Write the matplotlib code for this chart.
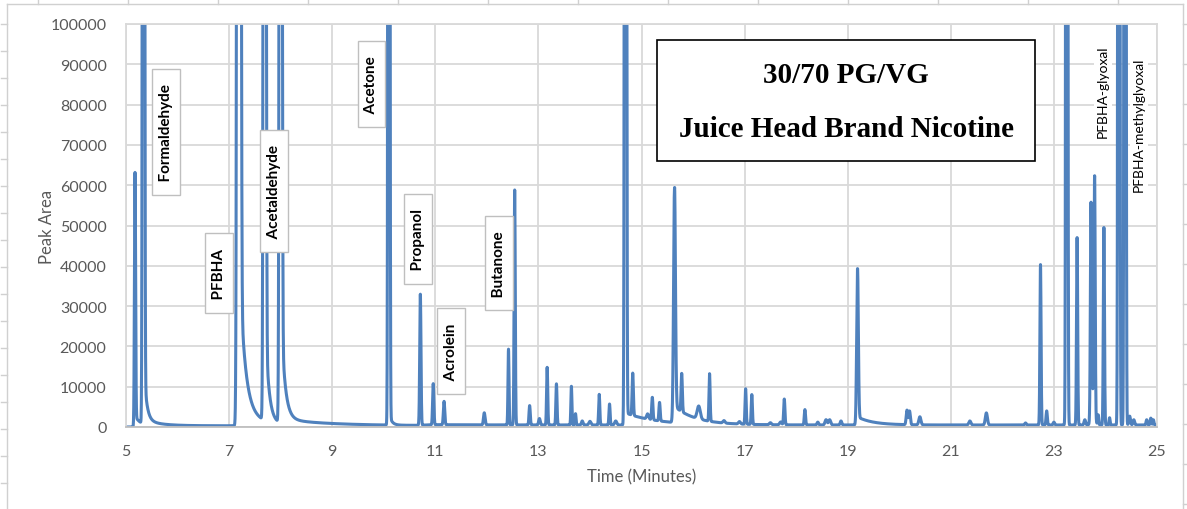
import matplotlib
matplotlib.use("Agg")
import matplotlib.pyplot as plt
import numpy as np
from matplotlib.lines import Line2D
from matplotlib.patches import Rectangle

# peak table (minutes, peak area units, width in minutes)
peak_time = [5.175, 5.34, 7.19, 7.69, 8.00, 10.10, 10.71, 10.96, 11.17, 11.95,
             12.42, 12.54, 12.83, 13.02, 13.17, 13.35, 13.64, 13.72, 13.85, 14.00,
             14.18, 14.38, 14.50, 14.69, 14.83, 15.12, 15.21, 15.35, 15.64, 15.78,
             16.11, 16.32, 16.60, 16.90, 17.02, 17.14, 17.50, 17.70, 17.77, 18.17,
             18.42, 18.58, 18.65, 18.87, 19.19, 20.15, 20.20, 20.40, 21.37, 21.69,
             22.45, 22.74, 22.86, 23.00, 23.25, 23.45, 23.60, 23.72, 23.76, 23.79,
             23.86, 23.97, 24.08, 24.26, 24.38, 24.47, 24.55, 24.80, 24.88, 24.93]
peak_height = [63000, 1000000, 2000000, 1000000, 1000000, 1000000, 32500, 10200, 5800, 3000,
               18800, 58300, 4800, 1600, 14300, 10200, 9600, 2800, 1000, 900,
               7600, 5200, 1000, 1000000, 10500, 1300, 5600, 4600, 58000, 9500,
               3200, 11800, 600, 600, 8800, 7400, 500, 700, 6400, 3800,
               700, 1300, 1300, 1000, 38800, 3600, 3400, 2000, 1000, 3000,
               500, 39800, 3500, 700, 1000000, 46500, 1300, 52000, 8000, 57000,
               2500, 49000, 1800, 1000000, 1000000, 2200, 1300, 1300, 1700, 1300]
peak_sigma = [0.011, 0.013, 0.020, 0.016, 0.016, 0.012, 0.012, 0.012, 0.013, 0.015,
              0.010, 0.011, 0.012, 0.015, 0.011, 0.011, 0.010, 0.010, 0.015, 0.020,
              0.011, 0.011, 0.020, 0.013, 0.012, 0.020, 0.012, 0.012, 0.018, 0.012,
              0.030, 0.011, 0.020, 0.020, 0.011, 0.011, 0.020, 0.020, 0.012, 0.012,
              0.015, 0.020, 0.020, 0.015, 0.016, 0.015, 0.015, 0.020, 0.020, 0.020,
              0.015, 0.011, 0.012, 0.015, 0.012, 0.011, 0.015, 0.012, 0.030, 0.011,
              0.010, 0.011, 0.010, 0.012, 0.012, 0.015, 0.015, 0.012, 0.012, 0.010]

# exponential tailing after the large peaks
tail_time = [5.175, 5.34, 5.34, 7.19, 7.19, 7.69, 8.00, 8.00, 10.10, 14.69, 15.64, 19.19]
tail_amp = [2500, 15000, 1500, 40500, 5000, 30000, 30000, 1500, 3000, 3000, 4000, 2000]
tail_tau = [0.10, 0.05, 0.30, 0.10, 0.33, 0.065, 0.07, 1.0, 0.05, 0.6, 0.4, 0.3]

# detector baseline
base_time = [5.0, 5.14, 5.20, 10.6, 11.0, 25.0]
base_level = [0, 0, 300, 300, 500, 500]

labels = ["Formaldehyde", "PFBHA", "Acetaldehyde", "Acetone", "Propanol", "Acrolein", "Butanone"]
label_x = [5.78, 6.81, 7.87, 9.76, 10.67, 11.31, 12.24]
label_y = [73200, 38200, 58600, 85100, 46700, 18900, 40700]
side_labels = ["PFBHA-glyoxal", "PFBHA-methylglyoxal"]
side_x = [23.95, 24.65]
side_y = [83400, 75200]

LINE = "#4F81BD"
GRID = "#d9d9d9"
TXT = "#595959"

plt.rcParams["font.family"] = ["Lato", "DejaVu Sans"]

t = np.linspace(5, 25, 8001)
signal = np.interp(t, base_time, base_level)
for t0, h, s in zip(peak_time, peak_height, peak_sigma):
    signal += h * np.exp(-0.5 * ((t - t0) / s) ** 2)
for t0, a, tau in zip(tail_time, tail_amp, tail_tau):
    dt = np.clip(t - t0, 0, None)
    signal += a * np.exp(-dt / tau) * (1 - np.exp(-dt / 0.01))

fig = plt.figure(figsize=(11.87, 5.10), dpi=100)
ax = fig.add_axes([126 / 1187, 1 - 428 / 510, 1031 / 1187, 403 / 510])
ax.plot(t, signal, color=LINE, lw=2.2, solid_joinstyle="round")
ax.set_xlim(5, 25)
ax.set_ylim(0, 100000)
ax.set_xticks(np.arange(5, 26, 2))
ax.set_yticks(np.arange(0, 100001, 10000))
ax.grid(True, color=GRID, lw=1.3)
ax.set_axisbelow(True)
for sp in ax.spines.values():
    sp.set_color(GRID)
    sp.set_linewidth(1.3)
ax.spines["bottom"].set_color("#bfbfbf")
ax.tick_params(length=0, colors=TXT, labelsize=11.5)
ax.tick_params(axis="y", pad=14)
ax.tick_params(axis="x", pad=12)
ax.set_xlabel("Time (Minutes)", color=TXT, fontsize=12, labelpad=8)
ax.set_ylabel("Peak Area", color=TXT, fontsize=12, labelpad=-3)

for name, x, y in zip(labels, label_x, label_y):
    ax.text(x, y, f"  {name}  ", rotation=90, ha="center", va="center", fontsize=11,
            fontweight="bold", color="black",
            bbox=dict(boxstyle="square,pad=0.45", fc="white", ec="#bfbfbf", lw=1))
for name, x, y in zip(side_labels, side_x, side_y):
    ax.text(x, y, name, rotation=90, ha="center", va="center", fontsize=10,
            color="black", bbox=dict(boxstyle="square,pad=0.2", fc="white", ec="none"))

ax.add_patch(Rectangle((0.515, 0.660), 0.367, 0.300, transform=ax.transAxes,
                       fc="white", ec="black", lw=1.2, zorder=5))
ax.text(0.6985, 0.875, "30/70 PG/VG", transform=ax.transAxes, ha="center", va="center",
        fontsize=21, fontweight="bold", family="Liberation Serif", zorder=6)
ax.text(0.6985, 0.740, "Juice Head Brand Nicotine", transform=ax.transAxes, ha="center",
        va="center", fontsize=21, fontweight="bold", family="Liberation Serif", zorder=6)

# page frame around the chart
W, H = 1187, 510
frame = "#d0d0d0"
fig.add_artist(Line2D([7 / W, 7 / W], [0, 1 - 5 / H], color=frame, lw=1, transform=fig.transFigure))
fig.add_artist(Line2D([7 / W, 1183 / W], [1 - 5 / H, 1 - 5 / H], color=frame, lw=1, transform=fig.transFigure))
fig.add_artist(Line2D([1183 / W, 1183 / W], [0, 1 - 5 / H], color=frame, lw=1, transform=fig.transFigure))
for yp in np.arange(25, H, 27):
    fig.add_artist(Line2D([1 / W, 7 / W], [1 - yp / H] * 2, color=frame, lw=1, transform=fig.transFigure))
for yp in np.arange(25, H, 40):
    fig.add_artist(Line2D([1183 / W, 1187 / W], [1 - yp / H] * 2, color=frame, lw=1, transform=fig.transFigure))
for xp in np.arange(38, 1183, 90):
    fig.add_artist(Line2D([xp / W] * 2, [1 - 5 / H, 1], color=frame, lw=1, transform=fig.transFigure))

fig.savefig("out.png", dpi=100)
